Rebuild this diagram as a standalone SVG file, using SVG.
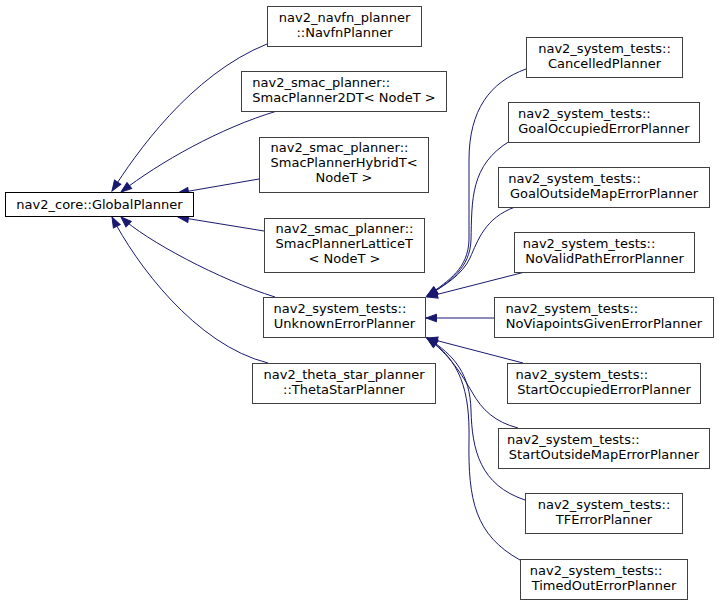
<svg xmlns="http://www.w3.org/2000/svg" width="719" height="605" viewBox="0 0 719 605">
<style>
  .bg { fill: #ffffff; }
  .box { fill: #ffffff; stroke: #404040; stroke-width: 1; }
  .root { fill: #ffffff; stroke: #000000; stroke-width: 1; }
  text { font-family: "DejaVu Sans", "Liberation Sans", sans-serif; font-size: 13px; fill: #000000; }
  .m { text-anchor: middle; }
  .s { text-anchor: start; }
  .edge { fill: none; stroke: #191970; stroke-width: 1; marker-start: url(#ah); }
</style>
<defs>
  <marker id="ah" markerUnits="userSpaceOnUse" markerWidth="14" markerHeight="10" refX="0.5" refY="4.5" orient="auto" overflow="visible">
    <path d="M0.5,4.5 L11,0.7 L11,8.3 Z" fill="#191970" stroke="#191970" stroke-width="1"/>
  </marker>
</defs>
<rect class="bg" x="0" y="0" width="719" height="605"/>

<g id="connectors">
  <path class="edge" d="M112,191 C135,155 190,75 267,44"/>
  <path class="edge" d="M121,192 C160,162 220,128 277,111"/>
  <path class="edge" d="M178,193 L259,179"/>
  <path class="edge" d="M178,217 L264,231"/>
  <path class="edge" d="M121,217 C145,240 220,280 275,297"/>
  <path class="edge" d="M112,217 C135,262 195,345 268,363"/>

  <path class="edge" d="M427,296 C450,280 468,268 469,240 L469,160 C469,110 490,82 526,69"/>
  <path class="edge" d="M427,296 C450,282 470,268 471,240 C472,200 470,165 510,141"/>
  <path class="edge" d="M427,296 C445,285 462,275 470,258 C478,240 485,218 515,207"/>
  <path class="edge" d="M427,297 L525,272"/>
  <path class="edge" d="M426,318 L494,318"/>
  <path class="edge" d="M427,338 L523,363"/>
  <path class="edge" d="M427,338 C450,355 462,375 472,392 C482,410 495,422 518,428"/>
  <path class="edge" d="M427,338 C455,355 470,375 471,410 C472,450 480,485 525,500"/>
  <path class="edge" d="M427,338 C460,360 470,390 469,440 C468,500 475,535 520,560"/>
</g>

<g id="GlobalPlanner">
  <rect class="root" x="5.5" y="192.5" width="188" height="24"/>
  <text class="m" x="99.5" y="208.5">nav2_core::GlobalPlanner</text>
</g>
<g id="NavfnPlanner">
  <rect class="box" x="267.5" y="6.5" width="154" height="40"/>
  <text class="s" x="278.8" y="22">nav2_navfn_planner</text>
  <text class="m" x="344.5" y="37">::NavfnPlanner</text>
</g>
<g id="SmacPlanner2DT">
  <rect class="box" x="241.5" y="71.5" width="205" height="40"/>
  <text class="s" x="252.3" y="87">nav2_smac_planner::</text>
  <text class="m" x="344" y="102">SmacPlanner2DT&lt; NodeT &gt;</text>
</g>
<g id="SmacPlannerHybridT">
  <rect class="box" x="259.5" y="137.5" width="169" height="55"/>
  <text class="s" x="270.5" y="152">nav2_smac_planner::</text>
  <text class="s" x="270.5" y="167">SmacPlannerHybridT&lt;</text>
  <text class="m" x="344" y="182">NodeT &gt;</text>
</g>
<g id="SmacPlannerLatticeT">
  <rect class="box" x="264.5" y="218.5" width="160" height="54"/>
  <text class="s" x="275.5" y="233">nav2_smac_planner::</text>
  <text class="s" x="275.5" y="248">SmacPlannerLatticeT</text>
  <text class="m" x="344.5" y="263">&lt; NodeT &gt;</text>
</g>
<g id="UnknownErrorPlanner">
  <rect class="box" x="263.5" y="297.5" width="162" height="40"/>
  <text class="s" x="273.6" y="312.5">nav2_system_tests::</text>
  <text class="m" x="344.5" y="327.5">UnknownErrorPlanner</text>
</g>
<g id="ThetaStarPlanner">
  <rect class="box" x="252.5" y="363.5" width="183" height="40"/>
  <text class="s" x="263.6" y="379">nav2_theta_star_planner</text>
  <text class="m" x="344" y="394">::ThetaStarPlanner</text>
</g>

<g id="CancelledPlanner">
  <rect class="box" x="526.5" y="37.5" width="156" height="40"/>
  <text class="s" x="538.2" y="53">nav2_system_tests::</text>
  <text class="m" x="604.5" y="68">CancelledPlanner</text>
</g>
<g id="GoalOccupiedErrorPlanner">
  <rect class="box" x="508.5" y="102.5" width="191" height="40"/>
  <text class="s" x="518" y="118">nav2_system_tests::</text>
  <text class="m" x="604" y="133">GoalOccupiedErrorPlanner</text>
</g>
<g id="GoalOutsideMapErrorPlanner">
  <rect class="box" x="498.5" y="167.5" width="211" height="40"/>
  <text class="s" x="508.2" y="183">nav2_system_tests::</text>
  <text class="m" x="604" y="198">GoalOutsideMapErrorPlanner</text>
</g>
<g id="NoValidPathErrorPlanner">
  <rect class="box" x="514.5" y="232.5" width="180" height="40"/>
  <text class="s" x="522.7" y="248">nav2_system_tests::</text>
  <text class="m" x="604.5" y="263">NoValidPathErrorPlanner</text>
</g>
<g id="NoViapointsGivenErrorPlanner">
  <rect class="box" x="494.5" y="297.5" width="219" height="40"/>
  <text class="s" x="505.5" y="313">nav2_system_tests::</text>
  <text class="m" x="604" y="328">NoViapointsGivenErrorPlanner</text>
</g>
<g id="StartOccupiedErrorPlanner">
  <rect class="box" x="507.5" y="363.5" width="193" height="40"/>
  <text class="s" x="515.5" y="379">nav2_system_tests::</text>
  <text class="m" x="604" y="394">StartOccupiedErrorPlanner</text>
</g>
<g id="StartOutsideMapErrorPlanner">
  <rect class="box" x="498.5" y="428.5" width="211" height="40"/>
  <text class="s" x="507" y="444">nav2_system_tests::</text>
  <text class="m" x="604" y="459">StartOutsideMapErrorPlanner</text>
</g>
<g id="TFErrorPlanner">
  <rect class="box" x="525.5" y="493.5" width="157" height="40"/>
  <text class="s" x="537.7" y="509">nav2_system_tests::</text>
  <text class="m" x="604" y="524">TFErrorPlanner</text>
</g>
<g id="TimedOutErrorPlanner">
  <rect class="box" x="520.5" y="559.5" width="167" height="40"/>
  <text class="s" x="529.8" y="575">nav2_system_tests::</text>
  <text class="m" x="604" y="590">TimedOutErrorPlanner</text>
</g>
</svg>
